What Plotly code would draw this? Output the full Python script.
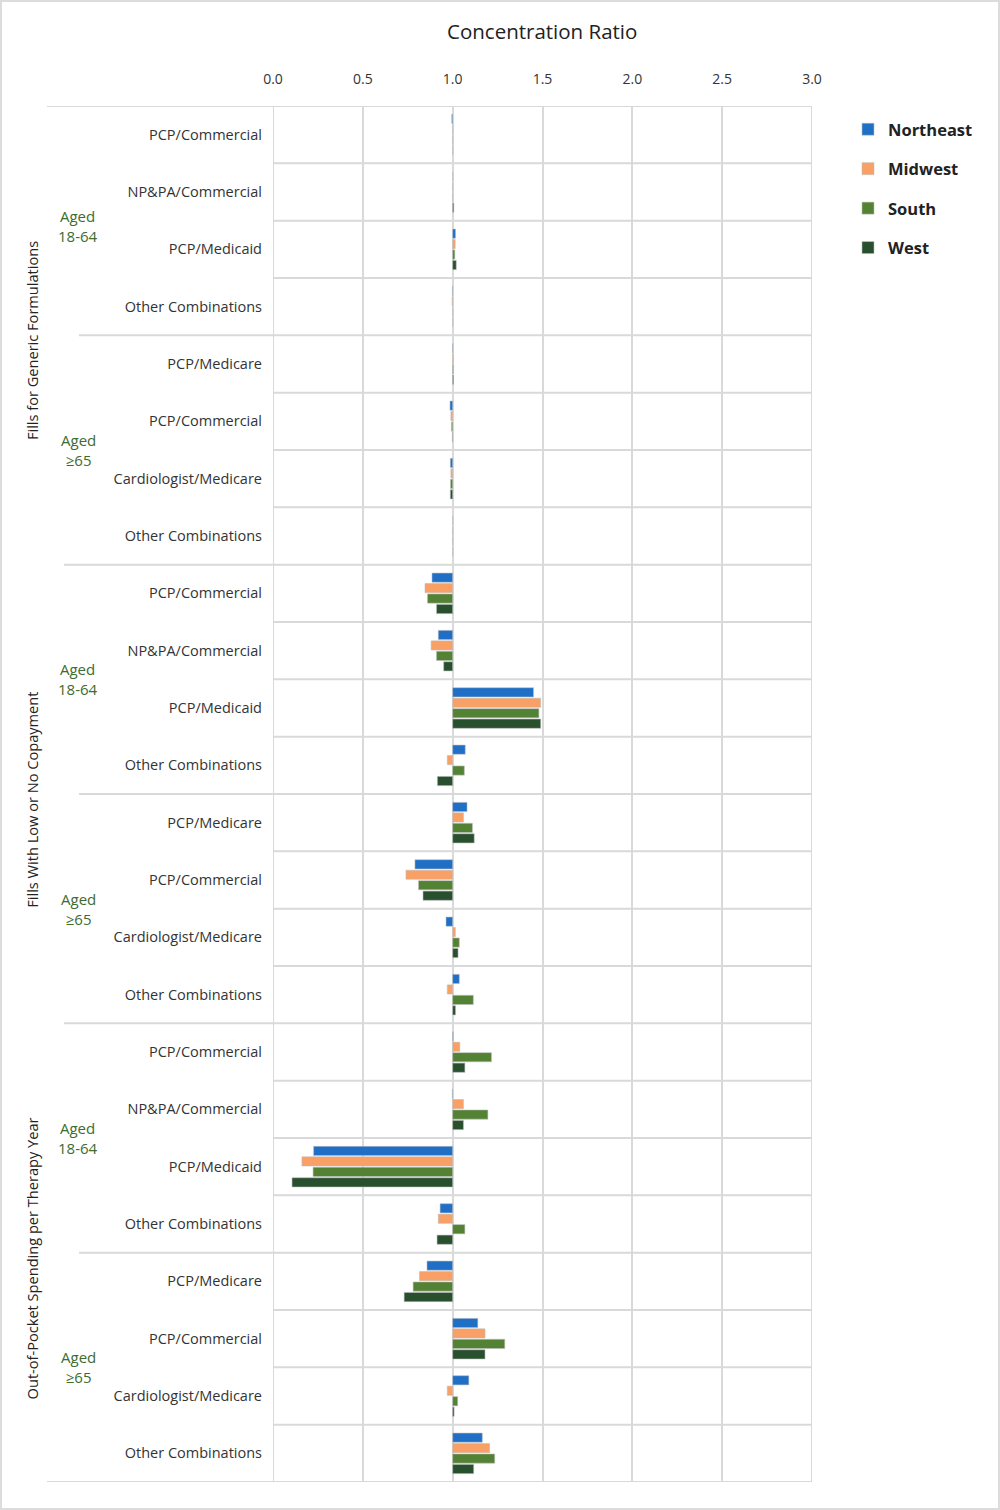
import plotly.graph_objects as go

# ---------------- data ----------------
categories = [
    "PCP/Commercial", "NP&PA/Commercial", "PCP/Medicaid", "Other Combinations",
    "PCP/Medicare", "PCP/Commercial", "Cardiologist/Medicare", "Other Combinations",
    "PCP/Commercial", "NP&PA/Commercial", "PCP/Medicaid", "Other Combinations",
    "PCP/Medicare", "PCP/Commercial", "Cardiologist/Medicare", "Other Combinations",
    "PCP/Commercial", "NP&PA/Commercial", "PCP/Medicaid", "Other Combinations",
    "PCP/Medicare", "PCP/Commercial", "Cardiologist/Medicare", "Other Combinations",
]

northeast = [0.995, 1.0, 1.016, 0.998, 1.002, 0.985, 0.987, 1.0,
             0.885, 0.92, 1.45, 1.07, 1.08, 0.79, 0.963, 1.037,
             1.003, 0.998, 0.226, 0.93, 0.857, 1.14, 1.09, 1.165]
midwest = [1.0, 1.0, 1.014, 0.997, 1.004, 0.99, 0.99, 1.0,
           0.846, 0.88, 1.49, 0.97, 1.06, 0.74, 1.015, 0.97,
           1.04, 1.06, 0.161, 0.92, 0.815, 1.18, 0.97, 1.206]
south = [1.0, 1.0, 1.012, 1.0, 1.004, 0.993, 0.988, 1.0,
         0.86, 0.91, 1.48, 1.065, 1.11, 0.81, 1.037, 1.115,
         1.216, 1.196, 0.223, 1.068, 0.78, 1.29, 1.028, 1.234]
west = [1.0, 1.006, 1.02, 1.0, 1.005, 0.998, 0.987, 1.0,
        0.91, 0.95, 1.49, 0.915, 1.12, 0.835, 1.03, 1.016,
        1.068, 1.06, 0.106, 0.913, 0.73, 1.18, 1.008, 1.117]

series_names = ["Northeast", "Midwest", "South", "West"]
series_values = [northeast, midwest, south, west]
series_colors = ["#1F6FC6", "#F8A066", "#548235", "#284F2E"]

measure_groups = ["Fills for Generic Formulations", "Fills With Low or No Copayment",
                  "Out-of-Pocket Spending per Therapy Year"]
age_groups = ["Aged<br>18-64", "Aged<br>≥65"]

x_ticks = [0.0, 0.5, 1.0, 1.5, 2.0, 2.5, 3.0]
baseline = 1.0

# ---------------- layout geometry ----------------
W, H = 1000, 1510
L, R, T, B = 273, 812, 106, 1482
pw, ph = R - L, B - T


def px_x(p):
    return (p - L) / pw


def px_y(p):
    return (B - p) / ph


ypos = list(range(len(categories)))

fig = go.Figure()
for name, vals, col in zip(series_names, series_values, series_colors):
    fig.add_trace(go.Bar(
        name=name, orientation="h", y=ypos,
        x=[v - baseline for v in vals], base=baseline,
        marker=dict(color=col, line=dict(color="rgba(190,190,190,0.7)", width=0.8)),
        legendgroup=name,
        hovertemplate=name + ": %{customdata}<extra></extra>",
        customdata=vals,
    ))

shapes = []
grid = "#D9D9D9"
n = len(categories)
for k in range(n + 1):
    yv = k - 0.5
    if k == 0 or k == n:
        x0 = px_x(47)
    elif k in (8, 16):
        x0 = px_x(64)
    elif k in (4, 12, 20):
        x0 = px_x(79)
    else:
        x0 = 0
    shapes.append(dict(type="line", xref="paper", yref="y", x0=x0, x1=1,
                       y0=yv, y1=yv, line=dict(color=grid, width=2), layer="below"))
for xv in (0, 3):
    shapes.append(dict(type="line", xref="x", yref="y", x0=xv, x1=xv,
                       y0=-0.5, y1=n - 0.5, line=dict(color=grid, width=2), layer="below"))
shapes.append(dict(type="rect", xref="paper", yref="paper",
                   x0=px_x(1), x1=px_x(999), y0=px_y(1509), y1=px_y(1),
                   line=dict(color="#DCDCDC", width=2), layer="below"))

annotations = [dict(text="Concentration Ratio", xref="paper", yref="paper",
                    x=px_x(542), y=px_y(31), showarrow=False,
                    font=dict(size=20.5, color="#222"), xanchor="center", yanchor="middle")]
for i, g in enumerate(measure_groups):
    annotations.append(dict(text=g, xref="paper", yref="y", x=px_x(32), y=i * 8 + 3.6,
                            textangle=-90, showarrow=False,
                            font=dict(size=14.6, color="#222"),
                            xanchor="center", yanchor="middle"))
    for j, a in enumerate(age_groups):
        annotations.append(dict(text=a, xref="paper", yref="y", x=px_x(78),
                                y=i * 8 + j * 4 + 1.5 + (0.09 if i == 0 and j == 0 else 0),
                                showarrow=False,
                                font=dict(size=15, color="#3E6B2F"),
                                xanchor="center", yanchor="middle"))

fig.update_layout(
    width=W, height=H, autosize=False,
    barmode="group", bargap=0.27, bargroupgap=0.12,
    margin=dict(l=L, r=W - R, t=T, b=H - B, pad=0),
    paper_bgcolor="white", plot_bgcolor="white",
    font=dict(family="Open Sans, DejaVu Sans, sans-serif", color="#333"),
    shapes=shapes, annotations=annotations,
    legend=dict(x=px_x(848), y=px_y(112), xanchor="left", yanchor="top",
                font=dict(size=16.5, color="#222", weight="bold"),
                tracegroupgap=15, traceorder="grouped", itemwidth=30,
                itemclick=False),
    xaxis=dict(side="top", range=[0, 3], tickvals=x_ticks,
               ticktext=[f"{v:.1f}" for v in x_ticks],
               showgrid=True, gridcolor=grid, gridwidth=2, zeroline=False,
               showline=False, ticks="", ticklabelstandoff=18,
               tickfont=dict(size=14, color="#333")),
    yaxis=dict(range=[n - 0.5, -0.5], tickvals=ypos, ticktext=categories,
               showgrid=False, zeroline=False, showline=False, ticks="",
               ticklabelstandoff=10, tickfont=dict(size=14.5, color="#333")),
)

fig.write_html("out.html", config={"responsive": False})
